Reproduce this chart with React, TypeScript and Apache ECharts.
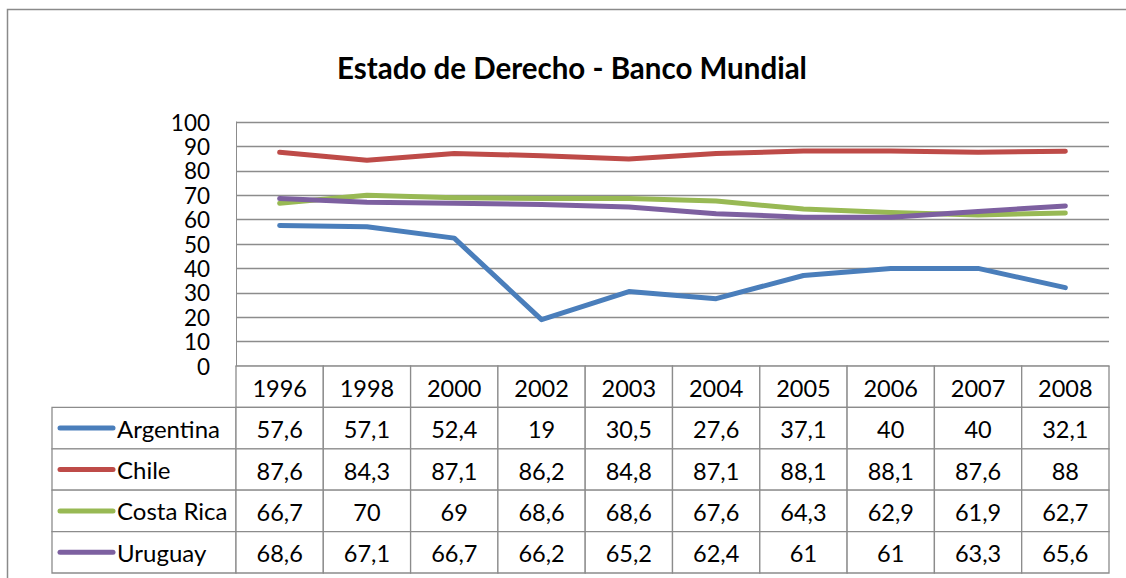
import React, { useEffect, useRef } from "react";
import * as echarts from "echarts";

const years = ["1996", "1998", "2000", "2002", "2003", "2004", "2005", "2006", "2007", "2008"];
const countries = ["Argentina", "Chile", "Costa Rica", "Uruguay"];
const argentina = [57.6, 57.1, 52.4, 19, 30.5, 27.6, 37.1, 40, 40, 32.1];
const chile = [87.6, 84.3, 87.1, 86.2, 84.8, 87.1, 88.1, 88.1, 87.6, 88];
const costaRica = [66.7, 70, 69, 68.6, 68.6, 67.6, 64.3, 62.9, 61.9, 62.7];
const uruguay = [68.6, 67.1, 66.7, 66.2, 65.2, 62.4, 61, 61, 63.3, 65.6];
const seriesValues = [argentina, chile, costaRica, uruguay];
const colors = ["#4A7EBB", "#BE4B48", "#98B954", "#7D60A0"];
const yTicks = { min: 0, max: 100, interval: 10 };

const FONT = "Lato";
const BORDER = "#8c8c8c";
const NAME_W = 184;

const fmt = (v: number) => String(v).replace(".", ",");

export default function App() {
  const ref = useRef<HTMLDivElement>(null);
  useEffect(() => {
    if (!ref.current) return;
    const chart = echarts.init(ref.current, undefined, { renderer: "svg" });

    const tableData: number[][] = [];
    years.forEach((_, c) => tableData.push([c, 0, 0]));
    seriesValues.forEach((_, r) => {
      tableData.push([0, r + 1, 1]);
      years.forEach((_, c) => tableData.push([c, r + 1, 0]));
    });

    const option: any = {
      animation: false,
      backgroundColor: "#ffffff",
      title: {
        text: "Estado de Derecho - Banco Mundial",
        left: 332,
        top: 47,
        textStyle: { fontFamily: FONT, fontSize: 29.5, fontWeight: "bold", color: "#000" },
      },
      graphic: [
        {
          type: "polyline",
          shape: { points: [[7.5, 600], [7.5, 9.5], [1130, 9.5]] },
          style: { stroke: "#8a8a8a", lineWidth: 1.5, fill: "none" },
          silent: true,
        },
      ],
      grid: [
        { left: 236, right: 17, top: 122, bottom: 212, containLabel: false },
        { left: 236, right: 17, top: 366, bottom: 5, containLabel: false },
      ],
      xAxis: [
        {
          type: "category",
          gridIndex: 0,
          data: years,
          boundaryGap: true,
          axisLine: { show: true, lineStyle: { color: BORDER, width: 1 } },
          axisTick: { show: false },
          axisLabel: { show: false },
          splitLine: { show: false },
        },
        {
          type: "category",
          gridIndex: 1,
          data: years,
          boundaryGap: true,
          show: false,
        },
      ],
      yAxis: [
        {
          type: "value",
          gridIndex: 0,
          min: yTicks.min,
          max: yTicks.max,
          interval: yTicks.interval,
          axisLine: { show: true, lineStyle: { color: BORDER, width: 1 } },
          axisTick: { show: false },
          axisLabel: { margin: 26, fontFamily: FONT, fontSize: 22.5, color: "#000" },
          splitLine: { show: true, lineStyle: { color: BORDER, width: 1.3 } },
        },
        {
          type: "category",
          gridIndex: 1,
          data: ["", ...countries],
          inverse: true,
          show: false,
        },
      ],
      series: [
        ...countries.map((name, i) => ({
          type: "line",
          name,
          xAxisIndex: 0,
          yAxisIndex: 0,
          data: seriesValues[i],
          symbol: "none",
          lineStyle: { color: colors[i], width: 5, cap: "round", join: "round" },
          itemStyle: { color: colors[i] },
          z: 3,
        })),
        {
          type: "custom",
          xAxisIndex: 1,
          yAxisIndex: 1,
          data: tableData,
          renderItem: (params: any, api: any) => {
            const col = api.value(0);
            const row = api.value(1);
            const kind = api.value(2);
            const c = api.coord([col, row]);
            const s = api.size([1, 1]);
            const h = s[1];
            const top = c[1] - h / 2;
            if (kind === 1) {
              const r = row - 1;
              const left = c[0] - s[0] / 2 - NAME_W;
              return {
                type: "group",
                children: [
                  {
                    type: "rect",
                    shape: { x: left, y: top, width: NAME_W, height: h },
                    style: { fill: "#fff", stroke: BORDER, lineWidth: 1.3 },
                  },
                  {
                    type: "line",
                    shape: { x1: left + 8, y1: c[1], x2: left + 61, y2: c[1] },
                    style: { stroke: colors[r], lineWidth: 5, lineCap: "round" },
                  },
                  {
                    type: "text",
                    style: {
                      x: left + 65,
                      y: c[1],
                      text: countries[r],
                      fill: "#000",
                      font: `24px ${FONT}`,
                      textAlign: "left",
                      textVerticalAlign: "middle",
                    },
                  },
                ],
              };
            }
            const text = row === 0 ? years[col] : fmt(seriesValues[row - 1][col]);
            return {
              type: "group",
              children: [
                {
                  type: "rect",
                  shape: { x: c[0] - s[0] / 2, y: top, width: s[0], height: h },
                  style: { fill: "#fff", stroke: BORDER, lineWidth: 1.3 },
                },
                {
                  type: "text",
                  style: {
                    x: c[0],
                    y: c[1] + 1,
                    text,
                    fill: "#000",
                    font: `23.5px ${FONT}`,
                    textAlign: "center",
                    textVerticalAlign: "middle",
                  },
                },
              ],
            };
          },
          z: 2,
        },
      ],
    };
    chart.setOption(option);
    return () => chart.dispose();
  }, []);

  return (
    <div
      ref={ref}
      style={{ position: "fixed", left: 0, top: 0, width: 1126, height: 578, background: "#fff" }}
    />
  );
}
